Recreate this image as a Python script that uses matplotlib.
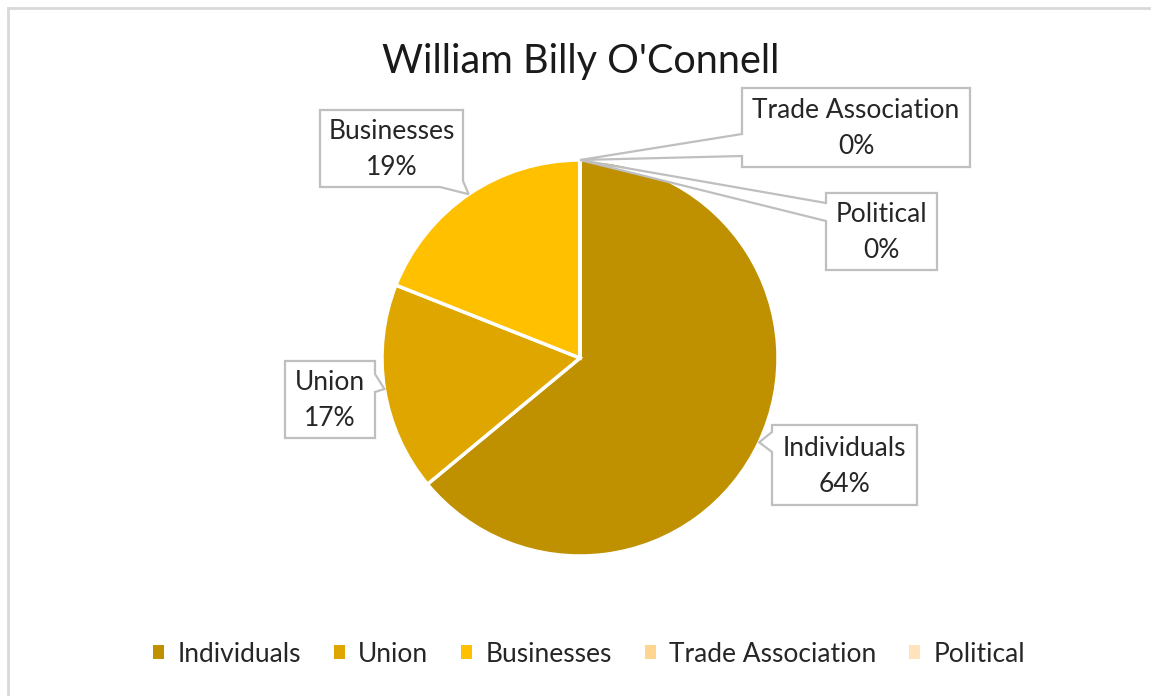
import matplotlib
matplotlib.use("Agg")
import matplotlib.pyplot as plt
from matplotlib.patches import Polygon, Rectangle
from matplotlib.lines import Line2D
import numpy as np

# ---- data ----
title = "William Billy O'Connell"
categories = ["Individuals", "Union", "Businesses", "Trade Association", "Political"]
shares = [64, 17, 19, 0, 0]
colors = ["#BF9000", "#E0A600", "#FFC000", "#FFD591", "#FFE3BA"]

W, H = 1151, 696
FONT = "Lato"
plt.rcParams['font.family'] = [FONT, 'DejaVu Sans']

fig = plt.figure(figsize=(W / 100, H / 100), dpi=100)
fig.patch.set_facecolor("white")

# pie axes (square in pixels)
cx, cy, r = 580, 358, 198
ax = fig.add_axes([(cx - r) / W, (H - cy - r) / H, 2 * r / W, 2 * r / H])
wedges, _ = ax.pie(shares, colors=colors, startangle=90, counterclock=False,
                   wedgeprops=dict(edgecolor="white", linewidth=2.5))
ax.set_xlim(-1, 1)
ax.set_ylim(-1, 1)
ax.axis("off")

# overlay axes in pixel coords
ov = fig.add_axes([0, 0, 1, 1], zorder=5)
ov.set_xlim(0, W)
ov.set_ylim(H, 0)
ov.axis("off")
ov.patch.set_alpha(0)

# chart frame (top and left edges visible)
ov.add_line(Line2D([8, W + 5], [8, 8], color="#D9D9D9", lw=2))
ov.add_line(Line2D([8, 8], [8, H + 5], color="#D9D9D9", lw=2))

ov.text(581, 62, title, ha="center", va="center", fontsize=28.5, color="#1a1a1a")


def tip_of(i):
    w = wedges[i]
    th = np.deg2rad((w.theta1 + w.theta2) / 2)
    p = ax.transData.transform((np.cos(th), np.sin(th)))
    return ov.transData.inverted().transform(p)


# label boxes: (x0, y0, x1, y1), pointer side, base interval
layout = {
    "Individuals": ((772, 425, 917, 505), "left", (432, 452)),
    "Union": ((285, 361, 375, 438), "right", (374, 392)),
    "Businesses": ((320, 110, 463, 187), "bottomright", (440, 181)),
    "Trade Association": ((742, 88, 970, 167), "left", (134, 156)),
    "Political": ((826, 193, 937, 270), "left", (203, 221)),
}

for i, cat in enumerate(categories):
    (x0, y0, x1, y1), side, (a, b) = layout[cat]
    tx, ty = tip_of(i)
    if side == "left":
        verts = [(x0, y0), (x1, y0), (x1, y1), (x0, y1), (x0, b), (tx, ty), (x0, a)]
    elif side == "right":
        verts = [(x0, y0), (x1, y0), (x1, a), (tx, ty), (x1, b), (x1, y1), (x0, y1)]
    else:  # bottom-right corner pointer
        verts = [(x0, y0), (x1, y0), (x1, b), (tx, ty), (a, y1), (x0, y1)]
    ov.add_patch(Polygon(verts, closed=True, facecolor="white", edgecolor="#BFBFBF",
                         lw=1.6, joinstyle="miter"))
    ov.text((x0 + x1) / 2, (y0 + y1) / 2 + 1, f"{cat}\n{shares[i]}%", ha="center",
            va="center", fontsize=19, color="#262626", linespacing=1.55)

# legend
handles = [Rectangle((0, 0), 1, 1, facecolor=c, edgecolor="none") for c in colors]
fig.legend(handles, categories, loc="center", bbox_to_anchor=(589 / W, 1 - 654 / H),
           ncol=5, frameon=False, fontsize=19, handlelength=0.42, handleheight=0.42,
           handletextpad=0.5, columnspacing=1.25, labelcolor="#262626")

fig.savefig("out.png", dpi=100, facecolor="white")
